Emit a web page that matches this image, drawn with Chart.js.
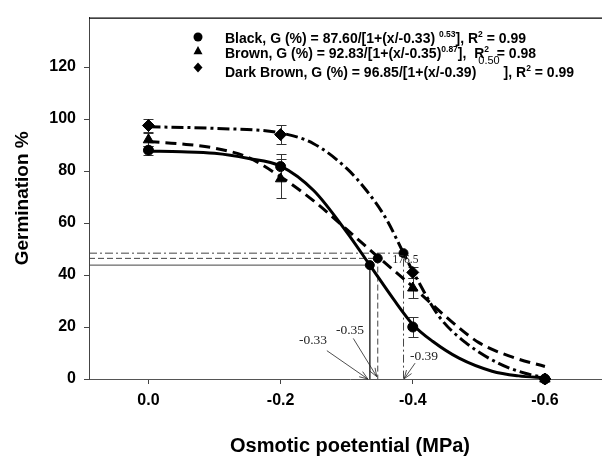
<!DOCTYPE html>
<html>
<head>
<meta charset="utf-8">
<script src="https://cdn.jsdelivr.net/npm/chart.js@4.4.1/dist/chart.umd.min.js"></script>
<style>
  html, body { margin: 0; padding: 0; overflow: hidden; background: #fff; }
  #wrap { width: 620px; height: 460px; }
</style>
</head>
<body>
<div id="wrap"><canvas id="chart" width="620" height="460"></canvas></div>
<script>
// treatment levels (MPa) and measured germination with error
const levels = [0, -0.2, -0.4, -0.6];
const blackMean = [88, 81.7, 20, 0];
const blackErr = [1.7, 5, 3.8, 0];
const brownMean = [92, 77, 35, 0];
const brownErr = [2.5, 7.5, 3.8, 0];
const darkMean = [97.5, 94, 41, 0];
const darkErr = [2.5, 3.8, 2, 0];

// fitted curves
const blackFitX = [0, -0.05, -0.1, -0.15, -0.2, -0.25, -0.3, -0.335, -0.37, -0.4, -0.43, -0.47, -0.52, -0.56, -0.6];
const blackFitY = [87.6, 87.4, 86.8, 84.9, 81.9, 72.5, 56.5, 43.8, 31, 21, 14.5, 8, 3, 1.2, 0.4];
const brownFitX = [0, -0.05, -0.1, -0.15, -0.2, -0.25, -0.3, -0.35, -0.4, -0.45, -0.5, -0.55, -0.6];
const brownFitY = [91.3, 90.4, 88.8, 85.3, 77.8, 68.5, 57.5, 46.4, 35.5, 24, 14, 8.5, 4.8];
const darkFitX = [0, -0.1, -0.2, -0.25, -0.3, -0.33, -0.36, -0.386, -0.4, -0.44, -0.48, -0.53, -0.57, -0.6];
const darkFitY = [97, 96.4, 94.6, 90.5, 81, 72.5, 61.5, 48.4, 41.5, 24, 14, 6, 2.2, 0.5];

// 50% germination points (x50, G/2)
const halfX = [-0.335, -0.347, -0.386];
const halfY = [43.8, 46.4, 48.4];

// axes
const xTicks = [0, -0.2, -0.4, -0.6];
const yTicks = [0, 20, 40, 60, 80, 100, 120];
const xMin = -0.7, xMax = 0.09;
const yMin = 0, yMax = 139;

// legend text: [text, kind] n = normal, s = small superscript, h = high superscript
const legendRows = [
  [['Black, G (%) = 87.60/[1+(x/-0.33) ', 'n'], ['0.53', 's'], ['], R', 'n'], ['2', 's'], [' = 0.99', 'n']],
  [['Brown, G (%) = 92.83/[1+(x/-0.35)', 'n'], ['0.87', 's'], ['],  R', 'n'], ['2', 's'], ['  = 0.98', 'n']],
  [['Dark Brown, G (%) = 96.85/[1+(x/-0.39)', 'n'], ['0.50', 'h'], [' ], R', 'n'], ['2', 's'], [' = 0.99', 'n']]
];
const legendMarks = ['circle', 'triangle', 'rectRot'];

// arrow labels for x50 values
const arrowNotes = [
  { text: '-0.33', tx: -0.249, ty: 14.9, fx: -0.270, fy: 10.9, ax: -0.332, ay: 0 },
  { text: '-0.35', tx: -0.305, ty: 18.7, fx: -0.310, fy: 15.6, ax: -0.3456, ay: 0.9 },
  { text: '-0.39', tx: -0.417, ty: 8.6, fx: -0.4035, fy: 6.1, ax: -0.387, ay: 0.1 }
];
const pointNote = { text: '176.5', x: -0.389, y: 45.9 };

const SANS = "'Liberation Sans', Arial, sans-serif";
const SERIF = "'Liberation Serif', 'Times New Roman', serif";

function pts(xs, ys) {
  return xs.map((v, i) => ({ x: v, y: ys[i] }));
}

function fitLine(xs, ys, dash) {
  return {
    data: pts(xs, ys),
    showLine: true,
    borderColor: '#000',
    borderWidth: 3,
    borderDash: dash,
    pointRadius: 0,
    cubicInterpolationMode: 'monotone',
    clip: false
  };
}

function markers(means, style, r) {
  return {
    data: pts(levels, means),
    pointStyle: style,
    pointRadius: r,
    backgroundColor: '#000',
    borderColor: '#000',
    borderWidth: 1,
    showLine: false,
    clip: false
  };
}

const halfDash = [[], [6, 3], [8, 3, 2, 3]];
const halfLines = halfX.map((hx, i) => ({
  data: [{ x: xMax, y: halfY[i] }, { x: hx, y: halfY[i] }, { x: hx, y: 0 }],
  showLine: true,
  borderColor: '#444',
  borderWidth: 1,
  borderDash: halfDash[i],
  pointRadius: 0,
  tension: 0,
  clip: false
}));

function drawErrorBars(chart) {
  const { ctx, scales: { x, y } } = chart;
  ctx.save();
  ctx.strokeStyle = '#333';
  ctx.lineWidth = 1;
  [[blackMean, blackErr], [brownMean, brownErr], [darkMean, darkErr]].forEach(([m, e]) => {
    levels.forEach((lv, i) => {
      if (!e[i]) return;
      const px = Math.round(x.getPixelForValue(lv)) + 0.5;
      const top = Math.round(y.getPixelForValue(m[i] + e[i])) + 0.5;
      const bot = Math.round(y.getPixelForValue(m[i] - e[i])) + 0.5;
      ctx.beginPath();
      ctx.moveTo(px, top); ctx.lineTo(px, bot);
      ctx.moveTo(px - 5, top); ctx.lineTo(px + 5, top);
      ctx.moveTo(px - 5, bot); ctx.lineTo(px + 5, bot);
      ctx.stroke();
    });
  });
  ctx.restore();
}

function drawMark(ctx, style, cx, cy, r) {
  ctx.beginPath();
  if (style === 'circle') {
    ctx.arc(cx, cy, r, 0, Math.PI * 2);
  } else if (style === 'triangle') {
    ctx.moveTo(cx, cy - r * 1.1);
    ctx.lineTo(cx + r, cy + r * 0.7);
    ctx.lineTo(cx - r, cy + r * 0.7);
    ctx.closePath();
  } else {
    ctx.moveTo(cx, cy - r * 1.1);
    ctx.lineTo(cx + r, cy);
    ctx.lineTo(cx, cy + r * 1.1);
    ctx.lineTo(cx - r, cy);
    ctx.closePath();
  }
  ctx.fill();
}

function drawLegend(chart) {
  const ctx = chart.ctx;
  const area = chart.chartArea;
  const markX = area.left + 109;
  const textX = area.left + 136;
  const baselines = [43.3, 58.3, 76.7];
  const markY = [37, 51, 67.5];
  ctx.save();
  ctx.fillStyle = '#000';
  ctx.textBaseline = 'alphabetic';
  ctx.textAlign = 'left';
  legendRows.forEach((row, r) => {
    drawMark(ctx, legendMarks[r], markX, markY[r], 4.5);
    let cx = textX;
    row.forEach(([txt, kind]) => {
      let dy = 0;
      if (kind === 'n') ctx.font = 'bold 14px ' + SANS;
      else if (kind === 's') { ctx.font = 'bold 8.5px ' + SANS; dy = -6; }
      else { ctx.font = '11px ' + SANS; dy = -12.5; cx += 2; }
      ctx.fillText(txt, cx, baselines[r] + dy);
      cx += ctx.measureText(txt).width;
    });
  });
  ctx.restore();
}

function drawNotes(chart) {
  const { ctx, scales: { x, y } } = chart;
  ctx.save();
  ctx.fillStyle = '#222';
  ctx.strokeStyle = '#222';
  ctx.lineWidth = 0.8;
  ctx.textAlign = 'center';
  ctx.textBaseline = 'middle';
  ctx.font = '13.5px ' + SERIF;
  arrowNotes.forEach(n => {
    ctx.fillText(n.text, x.getPixelForValue(n.tx), y.getPixelForValue(n.ty));
    const x0 = x.getPixelForValue(n.fx), y0 = y.getPixelForValue(n.fy);
    const x1 = x.getPixelForValue(n.ax), y1 = y.getPixelForValue(n.ay);
    const ang = Math.atan2(y1 - y0, x1 - x0);
    ctx.beginPath();
    ctx.moveTo(x0, y0); ctx.lineTo(x1, y1);
    ctx.moveTo(x1 - 9 * Math.cos(ang - 0.35), y1 - 9 * Math.sin(ang - 0.35));
    ctx.lineTo(x1, y1);
    ctx.lineTo(x1 - 9 * Math.cos(ang + 0.35), y1 - 9 * Math.sin(ang + 0.35));
    ctx.stroke();
  });
  ctx.font = '11.5px ' + SERIF;
  ctx.fillText(pointNote.text, x.getPixelForValue(pointNote.x), y.getPixelForValue(pointNote.y));
  ctx.restore();
}

const extras = {
  id: 'extras',
  beforeDatasetsDraw(chart) {
    drawErrorBars(chart);
  },
  afterDraw(chart) {
    const { ctx, chartArea: a } = chart;
    ctx.save();
    ctx.strokeStyle = '#000';
    ctx.lineWidth = 1.2;
    ctx.beginPath();
    ctx.moveTo(a.left, a.top + 0.5);
    ctx.lineTo(a.right, a.top + 0.5);
    ctx.stroke();
    ctx.restore();
    drawNotes(chart);
    drawLegend(chart);
  }
};

new Chart(document.getElementById('chart'), {
  type: 'scatter',
  data: {
    datasets: [
      markers(blackMean, 'circle', 5),
      markers(brownMean, 'triangle', 6),
      markers(darkMean, 'rectRot', 6),
      {
        data: pts(halfX, halfY),
        pointStyle: 'circle',
        pointRadius: 4.5,
        backgroundColor: '#000',
        borderColor: '#000',
        showLine: false,
        clip: false
      },
      fitLine(blackFitX, blackFitY, []),
      fitLine(brownFitX, brownFitY, [11, 6]),
      fitLine(darkFitX, darkFitY, [12, 4, 3, 4]),
      ...halfLines
    ]
  },
  options: {
    responsive: false,
    animation: false,
    layout: { padding: { top: 12, right: 9, left: 0, bottom: 0 } },
    plugins: {
      legend: { display: false },
      tooltip: { enabled: false }
    },
    scales: {
      x: {
        type: 'linear',
        reverse: true,
        min: xMin,
        max: xMax,
        afterBuildTicks: s => { s.ticks = xTicks.map(v => ({ value: v })); },
        afterFit: s => { s.height = 81; },
        grid: { drawOnChartArea: false, drawTicks: true, tickLength: 5, color: '#444' },
        border: { color: '#555', width: 1 },
        ticks: {
          padding: 7,
          color: '#000',
          font: { family: SANS, size: 16, weight: 'bold' },
          callback: v => (v === 0 ? '0.0' : v.toFixed(1))
        },
        title: {
          display: true,
          text: 'Osmotic poetential (MPa)',
          color: '#000',
          font: { family: SANS, size: 20, weight: 'bold' },
          padding: { top: 0, bottom: 2 }
        }
      },
      y: {
        type: 'linear',
        min: yMin,
        max: yMax,
        afterBuildTicks: s => { s.ticks = yTicks.map(v => ({ value: v })); },
        afterFit: s => { s.width = 89; },
        grid: { drawOnChartArea: false, drawTicks: true, tickLength: 5, color: '#444' },
        border: { color: '#444', width: 1 },
        ticks: {
          padding: 8,
          color: '#000',
          font: { family: SANS, size: 16, weight: 'bold' },
          callback: v => String(v)
        },
        title: {
          display: true,
          text: 'Germination %',
          color: '#000',
          font: { family: SANS, size: 19, weight: 'bold' },
          padding: { top: 11, bottom: 0 }
        }
      }
    }
  },
  plugins: [extras]
});
</script>
</body>
</html>
